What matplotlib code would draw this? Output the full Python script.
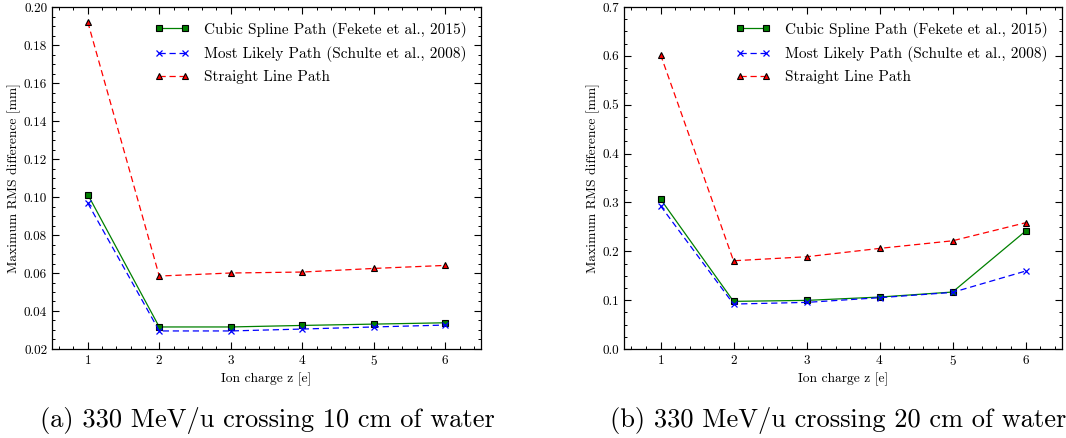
import numpy as np
import matplotlib
matplotlib.use("Agg")
import matplotlib.pyplot as plt
from matplotlib.ticker import MultipleLocator

plt.rcParams["font.family"] = "serif"
plt.rcParams["font.serif"] = ["cmr10", "DejaVu Serif"]
plt.rcParams["mathtext.fontset"] = "cm"
plt.rcParams["axes.unicode_minus"] = False
plt.rcParams["axes.formatter.use_mathtext"] = True

# data
z = [1, 2, 3, 4, 5, 6]

# (a) 10 cm of water
csp_a = [0.1013, 0.0316, 0.0316, 0.0324, 0.0331, 0.0338]
mlp_a = [0.0968, 0.0295, 0.0295, 0.0305, 0.0316, 0.0326]
slp_a = [0.1921, 0.0584, 0.0600, 0.0605, 0.0624, 0.0640]

# (b) 20 cm of water
csp_b = [0.3067, 0.0975, 0.0995, 0.1063, 0.1166, 0.2413]
mlp_b = [0.2930, 0.0920, 0.0954, 0.1050, 0.1159, 0.1595]
slp_b = [0.6026, 0.1806, 0.1888, 0.2059, 0.2215, 0.2584]

labels = ["Cubic Spline Path (Fekete et al., 2015)",
          "Most Likely Path (Schulte et al., 2008)",
          "Straight Line Path"]
captions = ["(a) 330 MeV/u crossing 10 cm of water",
            "(b) 330 MeV/u crossing 20 cm of water"]

fig = plt.figure(figsize=(10.66, 4.38), dpi=100)
ax_a = fig.add_axes([0.0488, 0.2032, 0.4024, 0.7808])
ax_b = fig.add_axes([0.5854, 0.2032, 0.4109, 0.7808])


def draw(ax, csp, mlp, slp, ylim, ymajor, yminor, fmt):
    ax.plot(z, csp, "-", color="green", lw=0.9, marker="s", ms=5,
            mfc="green", mec="black", mew=0.8, label=labels[0])
    ax.plot(z, mlp, "--", color="blue", lw=0.9, marker="x", ms=5,
            mew=0.9, dashes=(5, 3), label=labels[1])
    ax.plot(z, slp, "--", color="red", lw=0.9, marker="^", ms=5,
            mfc="red", mec="black", mew=0.8, dashes=(5, 3), label=labels[2])
    ax.set_xlim(0.5, 6.5)
    ax.set_ylim(*ylim)
    ax.xaxis.set_major_locator(MultipleLocator(1))
    ax.xaxis.set_minor_locator(MultipleLocator(0.2))
    ax.yaxis.set_major_locator(MultipleLocator(ymajor))
    ax.yaxis.set_minor_locator(MultipleLocator(yminor))
    ax.yaxis.set_major_formatter(plt.FormatStrFormatter(fmt))
    ax.tick_params(which="both", direction="in", top=True, right=True,
                   labelsize=9.5)
    ax.tick_params(which="major", length=5, width=0.8)
    ax.tick_params(which="minor", length=2.5, width=0.7)
    for s in ax.spines.values():
        s.set_linewidth(0.9)
    ax.set_xlabel("Ion charge z [e]", fontsize=9.7, labelpad=3)
    ax.set_ylabel("Maximum RMS difference [mm]", fontsize=9.7, labelpad=2)
    ax.legend(loc="upper right", frameon=False, fontsize=11.0,
              handlelength=2.3, handletextpad=0.9, labelspacing=0.55,
              borderaxespad=0.55, numpoints=2)


draw(ax_a, csp_a, mlp_a, slp_a, (0.02, 0.20), 0.02, 0.005, "%.2f")
draw(ax_b, csp_b, mlp_b, slp_b, (0.0, 0.7), 0.1, 0.025, "%.1f")

fig.text(0.2505, 0.039, captions[0], fontsize=19, ha="center", va="center")
fig.text(0.786, 0.039, captions[1], fontsize=19, ha="center", va="center")

fig.savefig("out.png", dpi=100)
